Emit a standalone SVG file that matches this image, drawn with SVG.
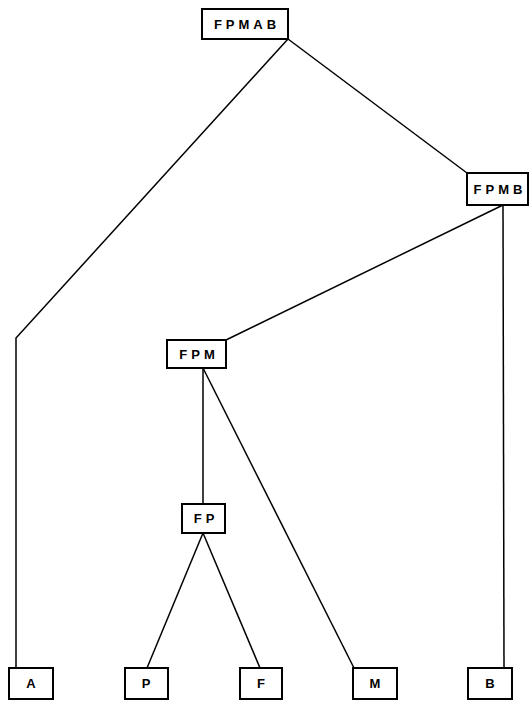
<svg xmlns="http://www.w3.org/2000/svg" width="530" height="701" viewBox="0 0 530 701">
<style>
.box{fill:#fff;stroke:#000;stroke-width:2}
.lbl{font-family:"Liberation Sans",Arial,sans-serif;font-weight:bold;font-size:13px;letter-spacing:4px;text-anchor:middle;fill:#000}
.edge{fill:none;stroke:#000;stroke-width:1.5}
</style>
<rect width="530" height="701" fill="#fff"/>
<g id="connectors">
<polyline class="edge" points="288,39 16,338 16,668"/>
<line class="edge" x1="288" y1="39" x2="467" y2="173"/>
<line class="edge" x1="503" y1="205" x2="226" y2="340"/>
<line class="edge" x1="503" y1="205" x2="504" y2="668"/>
<line class="edge" x1="203" y1="368" x2="203" y2="504"/>
<line class="edge" x1="203" y1="368" x2="354" y2="668"/>
<line class="edge" x1="203" y1="533" x2="147" y2="668"/>
<line class="edge" x1="203" y1="533" x2="260" y2="668"/>
</g>
<!-- label x positions include +2 to balance the trailing letter-spacing -->
<g id="FPMAB"><rect class="box" x="202" y="9" width="86" height="30"/><text class="lbl" x="247" y="29">FPMAB</text></g>
<g id="FPMB"><rect class="box" x="467" y="173" width="61" height="32"/><text class="lbl" x="500" y="194">FPMB</text></g>
<g id="FPM"><rect class="box" x="167" y="340" width="59" height="28"/><text class="lbl" x="199" y="359">FPM</text></g>
<g id="FP"><rect class="box" x="182" y="504" width="43" height="29"/><text class="lbl" x="206" y="523">FP</text></g>
<g id="A"><rect class="box" x="9" y="668" width="44" height="31"/><text class="lbl" x="33" y="688">A</text></g>
<g id="P"><rect class="box" x="125" y="668" width="43" height="31"/><text class="lbl" x="148" y="688">P</text></g>
<g id="F"><rect class="box" x="240" y="668" width="42" height="31"/><text class="lbl" x="263" y="688">F</text></g>
<g id="M"><rect class="box" x="353" y="668" width="44" height="31"/><text class="lbl" x="377" y="688">M</text></g>
<g id="B"><rect class="box" x="468" y="668" width="44" height="31"/><text class="lbl" x="492" y="688">B</text></g>
</svg>
